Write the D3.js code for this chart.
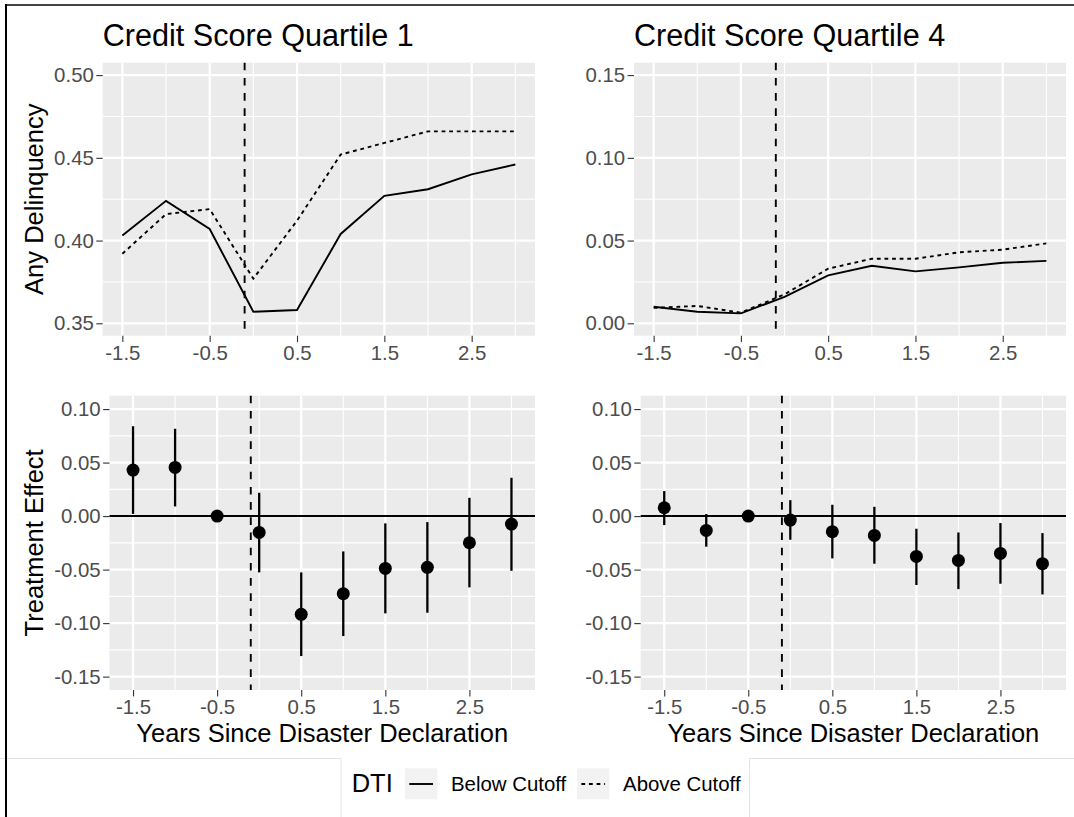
<!DOCTYPE html>
<html>
<head>
<meta charset="utf-8">
<script src="https://cdn.jsdelivr.net/npm/d3@7"></script>
<style>
  body { margin: 0; background: #fff; }
  svg { display: block; font-family: "Liberation Sans", Arial, sans-serif; }
</style>
</head>
<body>
<svg id="chart" width="1074" height="817"></svg>
<script>
// values
const years = [-1.5, -1, -0.5, 0, 0.5, 1, 1.5, 2, 2.5, 3]
const q1Below = [0.403, 0.424, 0.407, 0.357, 0.358, 0.404, 0.427, 0.431, 0.440, 0.446]
const q1Above = [0.392, 0.416, 0.419, 0.377, 0.412, 0.452, 0.459, 0.466, 0.466, 0.466]
const q4Below = [0.0100, 0.0070, 0.0060, 0.0160, 0.0290, 0.0348, 0.0314, 0.0338, 0.0366, 0.0377]
const q4Above = [0.0093, 0.0105, 0.0064, 0.0175, 0.0330, 0.0390, 0.0390, 0.0429, 0.0445, 0.0483]
const q1Effect = [0.0430, 0.0455, 0, -0.0153, -0.0918, -0.0725, -0.0489, -0.0479, -0.0249, -0.0075]
const q1Lower = [0.0020, 0.0090, 0, -0.0526, -0.1308, -0.1121, -0.0909, -0.0903, -0.0666, -0.0511]
const q1Upper = [0.0840, 0.0816, 0, 0.0218, -0.0526, -0.0330, -0.0068, -0.0056, 0.0171, 0.0358]
const q4Effect = [0.0078, -0.0134, 0, -0.0037, -0.0146, -0.0181, -0.0377, -0.0414, -0.0349, -0.0445]
const q4Lower = [-0.0084, -0.0286, 0, -0.0221, -0.0395, -0.0445, -0.0644, -0.0682, -0.0632, -0.0732]
const q4Upper = [0.0234, 0.0019, 0, 0.0149, 0.0106, 0.0087, -0.0118, -0.0153, -0.0065, -0.0159]

const xTicks = [-1.5, -0.5, 0.5, 1.5, 2.5]
const q1LevelTicks = [0.35, 0.40, 0.45, 0.50]
const q4LevelTicks = [0, 0.05, 0.10, 0.15]
const effectTicks = [-0.15, -0.10, -0.05, 0, 0.05, 0.10]
const seriesNames = ['Below Cutoff', 'Above Cutoff']
const cutoffYear = -0.1

const svg = d3.select('#chart')
const fontTick = 20.4, fontAxis = 25.5, fontTitle = 30.6
const dashStyles = [null, '3.8,3.8']

function expand(lim, mult) {
  const pad = (lim[1] - lim[0]) * mult
  return [lim[0] - pad, lim[1] + pad]
}

function minorOf(ticks, domain) {
  const step = ticks[1] - ticks[0]
  const out = []
  for (let v = ticks[0] - step / 2; v <= domain[1]; v += step) {
    if (v >= domain[0]) out.push(v)
  }
  return out
}

const panels = [
  {title: 'Credit Score Quartile 1', box: [102.7, 62.7, 535, 335.7], type: 'level',
   series: [q1Below, q1Above], yLim: [0.35, 0.50], yTicks: q1LevelTicks, yTitle: 'Any Delinquency'},
  {title: 'Credit Score Quartile 4', box: [634, 62.7, 1066, 335.7], type: 'level',
   series: [q4Below, q4Above], yLim: [0, 0.15], yTicks: q4LevelTicks},
  {box: [109.5, 395.7, 535, 690], type: 'effect', est: q1Effect, lo: q1Lower, hi: q1Upper,
   yLim: [-0.15, 0.10], yTicks: effectTicks, yTitle: 'Treatment Effect', xTitle: 'Years Since Disaster Declaration'},
  {box: [640.7, 395.7, 1066, 690], type: 'effect', est: q4Effect, lo: q4Lower, hi: q4Upper,
   yLim: [-0.15, 0.10], yTicks: effectTicks, xTitle: 'Years Since Disaster Declaration'}
]

panels.forEach(function(p) {
  const [x0, y0, x1, y1] = p.box
  // errorbars reach 0.05 past the end years in the lower row
  const xLim = p.type === 'effect' ? [years[0] - 0.05, years[years.length - 1] + 0.05] : d3.extent(years)
  const x = d3.scaleLinear().domain(expand(xLim, 0.05)).range([x0, x1])
  const y = d3.scaleLinear().domain(expand(p.yLim, 0.05)).range([y1, y0])
  const g = svg.append('g')

  g.append('rect').attr('x', x0).attr('y', y0).attr('width', x1 - x0).attr('height', y1 - y0)
    .attr('fill', '#EBEBEB')

  const xMinor = d3.range(-2, 4, 1).filter(v => v >= x.domain()[0] && v <= x.domain()[1])
  const yMinor = minorOf(p.yTicks, y.domain())
  g.selectAll('.vmin').data(xMinor).join('line')
    .attr('x1', d => x(d)).attr('x2', d => x(d)).attr('y1', y0).attr('y2', y1)
    .attr('stroke', '#fff').attr('stroke-width', 1.1)
  g.selectAll('.hmin').data(yMinor).join('line')
    .attr('x1', x0).attr('x2', x1).attr('y1', d => y(d)).attr('y2', d => y(d))
    .attr('stroke', '#fff').attr('stroke-width', 1.1)
  g.selectAll('.vmaj').data(xTicks).join('line')
    .attr('x1', d => x(d)).attr('x2', d => x(d)).attr('y1', y0).attr('y2', y1)
    .attr('stroke', '#fff').attr('stroke-width', 2.2)
  g.selectAll('.hmaj').data(p.yTicks).join('line')
    .attr('x1', x0).attr('x2', x1).attr('y1', d => y(d)).attr('y2', d => y(d))
    .attr('stroke', '#fff').attr('stroke-width', 2.2)

  if (p.type === 'level') {
    const line = d3.line().x((d, i) => x(years[i])).y(d => y(d))
    p.series.forEach(function(s, k) {
      g.append('path').datum(s).attr('d', line)
        .attr('fill', 'none').attr('stroke', '#000').attr('stroke-width', 1.9)
        .attr('stroke-dasharray', dashStyles[k])
    })
  } else {
    g.append('line').attr('x1', x0).attr('x2', x1).attr('y1', y(0)).attr('y2', y(0))
      .attr('stroke', '#000').attr('stroke-width', 2)
    g.selectAll('.bar').data(years).join('line')
      .attr('x1', d => x(d)).attr('x2', d => x(d))
      .attr('y1', (d, i) => y(p.lo[i])).attr('y2', (d, i) => y(p.hi[i]))
      .attr('stroke', '#000').attr('stroke-width', 2.3)
    g.selectAll('.pt').data(years).join('circle')
      .attr('cx', d => x(d)).attr('cy', (d, i) => y(p.est[i])).attr('r', 6.5)
      .attr('fill', '#000')
  }

  g.append('line').attr('x1', x(cutoffYear)).attr('x2', x(cutoffYear)).attr('y1', y0).attr('y2', y1)
    .attr('stroke', '#000').attr('stroke-width', 1.9).attr('stroke-dasharray', '7.6,7.6')

  const ax = g.append('g').attr('transform', 'translate(0,' + y1 + ')')
    .call(d3.axisBottom(x).tickValues(xTicks).tickFormat(d => d.toFixed(1)).tickSize(6.4).tickPadding(3.5))
  const ay = g.append('g').attr('transform', 'translate(' + x0 + ',0)')
    .call(d3.axisLeft(y).tickValues(p.yTicks).tickFormat(d => d.toFixed(2)).tickSize(6.4).tickPadding(2.5))
  ;[ax, ay].forEach(function(a) {
    a.select('.domain').remove()
    a.attr('font-family', null).attr('font-size', null)
    a.selectAll('line').attr('stroke', '#333').attr('stroke-width', 1.1)
    a.selectAll('text').attr('fill', '#4D4D4D').style('font-size', fontTick + 'px')
  })

  if (p.title) {
    svg.append('text').attr('x', x0).attr('y', 46).text(p.title)
      .style('font-size', fontTitle + 'px').attr('fill', '#000')
  }
  if (p.yTitle) {
    svg.append('text').attr('transform', 'translate(43,' + (y0 + y1) / 2 + ') rotate(-90)')
      .attr('text-anchor', 'middle').text(p.yTitle)
      .style('font-size', fontAxis + 'px').attr('fill', '#000')
  }
  if (p.xTitle) {
    svg.append('text').attr('x', (x0 + x1) / 2).attr('y', y1 + 52.3)
      .attr('text-anchor', 'middle').text(p.xTitle)
      .style('font-size', fontAxis + 'px').attr('fill', '#000')
  }
})

// legend
const lg = svg.append('g')
lg.append('path').attr('d', 'M0,758.5H341V817M749.5,817V758.5H1074')
  .attr('fill', 'none').attr('stroke', '#E3E3E3').attr('stroke-width', 1)
lg.append('text').attr('x', 351.7).attr('y', 791.7).text('DTI')
  .style('font-size', fontAxis + 'px').attr('fill', '#000')
let kx = 405
seriesNames.forEach(function(name, k) {
  lg.append('rect').attr('x', kx).attr('y', 768.3).attr('width', 32.3).attr('height', 31)
    .attr('fill', '#F2F2F2')
  lg.append('line').attr('x1', kx + 4.3).attr('x2', kx + 28).attr('y1', 784).attr('y2', 784)
    .attr('stroke', '#000').attr('stroke-width', 1.9).attr('stroke-dasharray', dashStyles[k])
  const t = lg.append('text').attr('x', kx + 46).attr('y', 791.3).text(name)
    .style('font-size', fontTick + 'px').attr('fill', '#000')
  kx = kx + 46 + t.node().getComputedTextLength() + 10.8
})

// outer frame edges
svg.append('line').attr('x1', 5).attr('x2', 1074).attr('y1', 5).attr('y2', 5)
  .attr('stroke', '#444').attr('stroke-width', 2)
svg.append('line').attr('x1', 6).attr('x2', 6).attr('y1', 4).attr('y2', 817)
  .attr('stroke', '#000').attr('stroke-width', 2)
</script>
</body>
</html>
